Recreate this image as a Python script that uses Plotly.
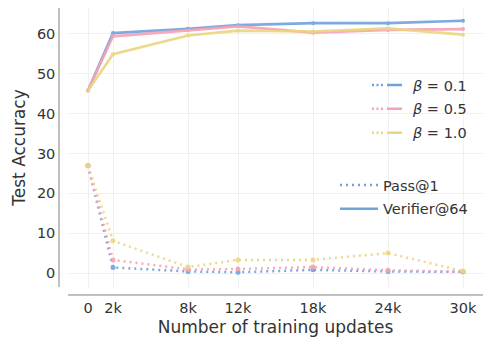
import plotly.graph_objects as go

steps = [0, 2000, 8000, 12000, 18000, 24000, 30000]
tick_labels = ["0", "2k", "8k", "12k", "18k", "24k", "30k"]
betas = ["0.1", "0.5", "1.0"]
colors = ["#6fa3dc", "#f7a1b4", "#ecd580"]

verifier = {
    "0.1": [45.8, 60.2, 61.3, 62.2, 62.7, 62.7, 63.3],
    "0.5": [45.8, 59.4, 60.9, 61.9, 60.3, 61.0, 61.2],
    "1.0": [45.8, 54.9, 59.6, 60.8, 60.6, 61.4, 59.8],
}
pass1 = {
    "0.1": [26.9, 1.4, 0.4, 0.2, 0.8, 0.4, 0.3],
    "0.5": [26.9, 3.3, 0.9, 1.0, 1.5, 0.7, 0.3],
    "1.0": [26.9, 8.1, 1.5, 3.3, 3.3, 5.0, 0.5],
}

FONT = "DejaVu Sans"
fig = go.Figure()

for b, c in zip(betas, colors):
    fig.add_trace(go.Scatter(x=steps, y=pass1[b], mode="lines+markers",
                             line=dict(color=c, width=2.5, dash="2px,4px"),
                             marker=dict(size=5, color=c), showlegend=False,
                             opacity=0.9))
for b, c in zip(betas, colors):
    fig.add_trace(go.Scatter(x=steps, y=verifier[b], mode="lines+markers",
                             line=dict(color=c, width=2.7),
                             marker=dict(size=4, color=c), showlegend=False,
                             opacity=0.9))

# legend entries (beta)
for b, c in zip(betas, colors):
    fig.add_trace(go.Scatter(x=[None], y=[None], mode="lines",
                             line=dict(color=c, width=2.5,
                                       dash="2px,2.5px,2px,2.5px,2px,4px,15px,60px"),
                             name=f"<i>β</i> = {b}", legend="legend",
                             legendgroup="b" + b))
# legend entries (metric)
fig.add_trace(go.Scatter(x=[None], y=[None], mode="lines",
                         line=dict(color=colors[0], width=2.5, dash="2px,4px"),
                         name="Pass@1", legend="legend2", legendgroup="p"))
fig.add_trace(go.Scatter(x=[None], y=[None], mode="lines",
                         line=dict(color=colors[0], width=2.5),
                         name="Verifier@64", legend="legend2", legendgroup="v"))

W, H = 490, 358
ml, mr, mt, mb = 59, 7, 8, 63
pw = W - ml - mr
ph = H - mt - mb

def px_x(p):
    return (p - ml) / pw

def px_y(p):
    return (H - mb - p) / ph

fig.update_layout(
    width=W, height=H,
    margin=dict(l=ml, r=mr, t=mt, b=mb),
    plot_bgcolor="white", paper_bgcolor="white",
    font=dict(family=FONT, size=14, color="#333333"),
    xaxis=dict(domain=[9 / pw, 1], range=[-1600, 31600], tickvals=steps,
               ticktext=tick_labels, showgrid=True, gridcolor="#f0f0f0",
               gridwidth=1, zeroline=False, showline=True, linecolor="#c0c0c0",
               linewidth=1.5, ticks="", anchor="free", position=0,
               automargin=False,
               title=dict(text="Number of training updates", font=dict(size=17),
                          standoff=5),
               tickfont=dict(size=14.5)),
    yaxis=dict(domain=[8 / ph, 1], range=[-3.5, 66.5], tickvals=[0, 10, 20, 30, 40, 50, 60],
               showgrid=True, gridcolor="#f0f0f0", gridwidth=1, zeroline=False,
               showline=True, linecolor="#c0c0c0", linewidth=1.5, ticks="",
               anchor="free", position=0, automargin=False,
               title=dict(text="Test Accuracy", font=dict(size=17), standoff=6),
               tickfont=dict(size=14.5)),
    legend=dict(x=px_x(367), y=px_y(69), xanchor="left", yanchor="top",
                bgcolor="rgba(0,0,0,0)", font=dict(size=14.5), tracegroupgap=2,
                itemwidth=36),
    legend2=dict(x=px_x(335), y=px_y(169), xanchor="left", yanchor="top",
                 bgcolor="rgba(0,0,0,0)", font=dict(size=14.5), tracegroupgap=2,
                 itemwidth=38),
)

fig.write_html("out.html", config={"displayModeBar": False},
               post_script="document.body.style.margin='0';document.body.style.padding='0';")
